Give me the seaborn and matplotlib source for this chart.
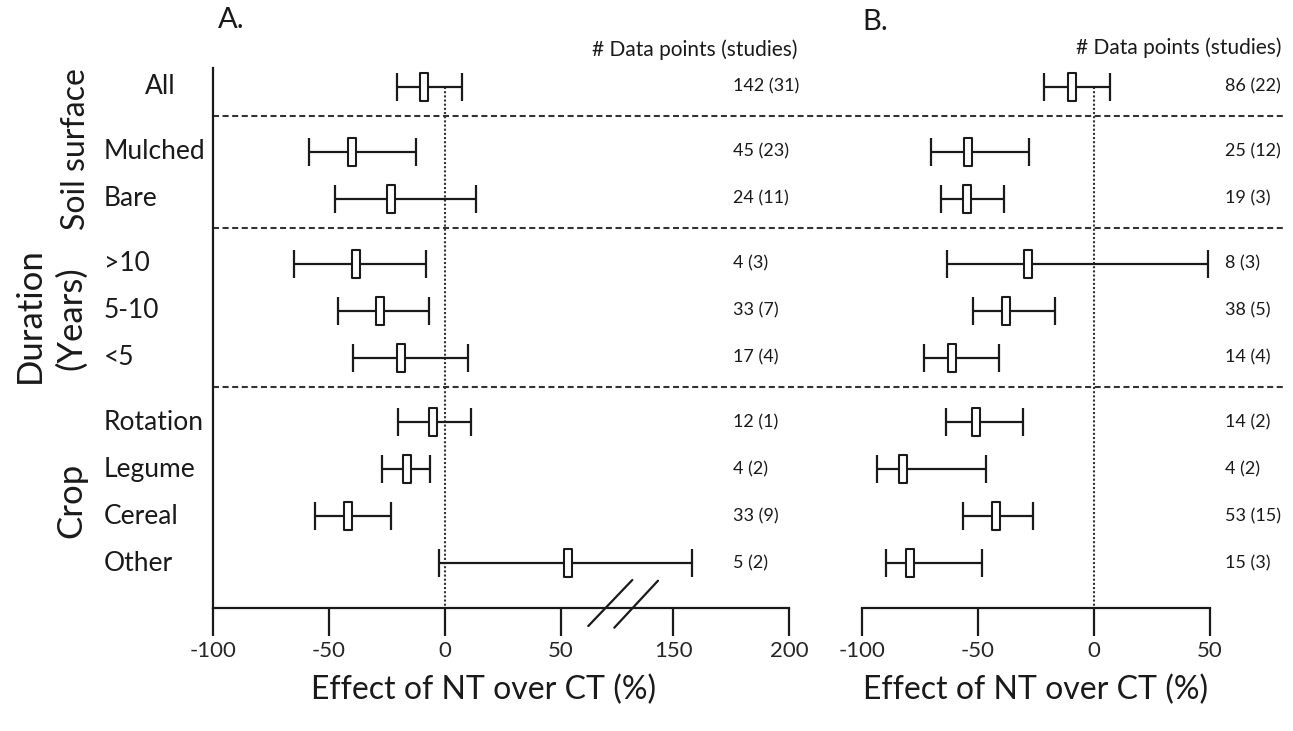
import numpy as np
import pandas as pd
import matplotlib
matplotlib.use("Agg")
import matplotlib.pyplot as plt
from matplotlib.path import Path
import seaborn as sns

# ---------------- data ----------------
labels = ["All", "Mulched", "Bare", ">10", "5-10", "<5", "Rotation", "Legume", "Cereal", "Other"]
group_of_row = [0, 1, 1, 2, 2, 2, 3, 3, 3, 3]

a_mean = [-9.0, -40.1, -23.1, -38.3, -27.8, -18.8, -5.3, -16.1, -41.8, 53.3]
a_low = [-20.8, -58.6, -47.4, -65.1, -46.1, -39.7, -20.1, -27.0, -56.0, -2.6]
a_high = [7.5, -12.4, 13.5, -8.3, -6.9, 9.8, 11.5, -6.2, -23.1, 158.0]
a_counts = ["142 (31)", "45 (23)", "24 (11)", "4 (3)", "33 (7)", "17 (4)", "12 (1)", "4 (2)", "33 (9)", "5 (2)"]

b_mean = [-9.4, -54.3, -54.9, -28.5, -37.9, -61.0, -51.0, -82.5, -42.2, -79.2]
b_low = [-21.4, -70.2, -65.8, -63.4, -52.0, -73.1, -63.9, -93.4, -56.6, -89.7]
b_high = [7.1, -28.2, -38.7, 49.0, -16.8, -41.1, -30.6, -46.4, -26.3, -48.3]
b_counts = ["86 (22)", "25 (12)", "19 (3)", "8 (3)", "38 (5)", "14 (4)", "14 (2)", "4 (2)", "53 (15)", "15 (3)"]

a_ticks = [-100, -50, 0, 50, 150, 200]
b_ticks = [-100, -50, 0, 50]
group_names = ["Soil surface", "Duration", "(Years)", "Crop"]
xlabel = "Effect of NT over CT (%)"
header = "# Data points (studies)"

# ---------------- layout ----------------
W, H = 1293, 731
GAP = 0.38
pos = np.arange(len(labels)) + GAP * np.array(group_of_row)

sns.set_style("white")
plt.rcParams["font.family"] = ["Lato", "DejaVu Sans"]
INK = "#1a1a1a"

fig = plt.figure(figsize=(W / 100, H / 100), dpi=100)
axA = fig.add_axes([213 / W, 1 - 608 / H, 576 / W, 540 / H])
axB = fig.add_axes([862 / W, 1 - 608 / H, 423 / W, 540 / H])
for ax in (axA, axB):
    ax.patch.set_visible(False)

# broken axis for panel A (50 .. 150 compressed)
def fwd(v):
    v = np.asarray(v, dtype=float)
    return np.where(v <= 60, v, np.where(v < 150, 60 + (v - 60) * (38.5 / 90), v - 51.5))

def inv(d):
    d = np.asarray(d, dtype=float)
    return np.where(d <= 60, d, np.where(d < 98.5, 60 + (d - 60) * (90 / 38.5), d + 51.5))

axA.set_xscale("function", functions=(fwd, inv))

box = Path([(-0.14, -0.5), (0.14, -0.5), (0.14, 0.5), (-0.14, 0.5), (-0.14, -0.5)],
           [Path.MOVETO, Path.LINETO, Path.LINETO, Path.LINETO, Path.CLOSEPOLY])

ytop = -0.40
ybot = ytop + 540 / 47

def draw(ax, mean, low, high, counts, xlim, ticks, count_x):
    df = pd.DataFrame({"label": labels, "pos": pos, "mean": mean, "low": low, "high": high})
    ax.errorbar(df["mean"], df["pos"],
                xerr=[df["mean"] - df["low"], df["high"] - df["mean"]],
                fmt="none", ecolor=INK, elinewidth=1.6, capsize=10, capthick=1.6, zorder=2)
    sns.scatterplot(data=df, x="mean", y="pos", marker=box, s=400, color="white",
                    edgecolor=INK, linewidth=1.5, ax=ax, zorder=3, legend=False)
    ax.vlines(0, 0, ybot, colors="#333333", linestyles=(0, (1, 1)), linewidth=1.5, zorder=1)
    ax.set_xlim(*xlim)
    ax.set_ylim(ybot, ytop)
    ax.set_xticks(ticks)
    ax.set_xticklabels([str(t) for t in ticks])
    ax.set_yticks([])
    ax.set_xlabel("")
    ax.set_ylabel("")
    ax.tick_params(axis="x", direction="out", length=20, width=1.6, color=INK,
                   labelsize=16, pad=4, bottom=True)
    for s in ["top", "right"]:
        ax.spines[s].set_visible(False)
    ax.spines["bottom"].set_linewidth(1.6)
    ax.spines["bottom"].set_color(INK)
    tr = ax.get_yaxis_transform()
    for p, c in zip(pos, counts):
        ax.text(count_x, p, c, transform=tr, ha="left", va="center", fontsize=13, color=INK)

draw(axA, a_mean, a_low, a_high, a_counts, (-100, 200), a_ticks, (733 - 213) / 576)
draw(axB, b_mean, b_low, b_high, b_counts, (-100, -100 + 423 / 2.32), b_ticks, (1225 - 862) / 423)

axA.spines["left"].set_linewidth(1.6)
axA.spines["left"].set_color(INK)
axB.spines["left"].set_visible(False)
axB.spines["bottom"].set_bounds(-100, 50)

# dashed separators spanning both panels
trA = axA.get_yaxis_transform()
for g in range(1, max(group_of_row) + 1):
    last = [p for p, gg in zip(pos, group_of_row) if gg == g - 1][-1]
    yy = last + 0.62
    axA.plot([0, (1285 - 213) / 576], [yy, yy], transform=trA, clip_on=False,
             color="#333333", linewidth=1.5, linestyle=(0, (2.9, 1.7)), zorder=1)

# break marks
for (x0, y0, x1, y1) in [(588.3, 626, 632.3, 580), (614.3, 627.7, 658, 580.7)]:
    axA.plot([(x0 - 213) / 576, (x1 - 213) / 576], [(608 - y0) / 540, (608 - y1) / 540],
             transform=axA.transAxes, clip_on=False, color=INK, linewidth=1.6)

# row labels
for p, lab in zip(pos, labels):
    x = (145 - 213) / 576 if lab == "All" else (104 - 213) / 576
    axA.text(x, p, lab, transform=trA, ha="left", va="center", fontsize=19, color=INK)

# group labels (rotated)
def ftxt(x, y, s, **kw):
    fig.text(x / W, 1 - y / H, s, **kw)

ftxt(76, 149, group_names[0], rotation=90, ha="center", va="center", fontsize=23, color=INK)
ftxt(30, 315, group_names[1], rotation=90, ha="center", va="center", fontsize=25, color=INK)
ftxt(71, 318, group_names[2], rotation=90, ha="center", va="center", fontsize=25, color=INK)
ftxt(71, 500, group_names[3], rotation=90, ha="center", va="center", fontsize=25, color=INK)

# headers, titles, x labels
ftxt(797, 50, header, ha="right", va="center", fontsize=15, color=INK)
ftxt(1282, 48, header, ha="right", va="center", fontsize=15, color=INK)
ftxt(218, 20, "A.", ha="left", va="center", fontsize=21, color=INK)
ftxt(862, 22, "B.", ha="left", va="center", fontsize=21, color=INK)
ftxt(484, 690, xlabel, ha="center", va="center", fontsize=23, color=INK)
ftxt(1036, 690, xlabel, ha="center", va="center", fontsize=23, color=INK)

fig.savefig("out.png", dpi=100, facecolor="white")
